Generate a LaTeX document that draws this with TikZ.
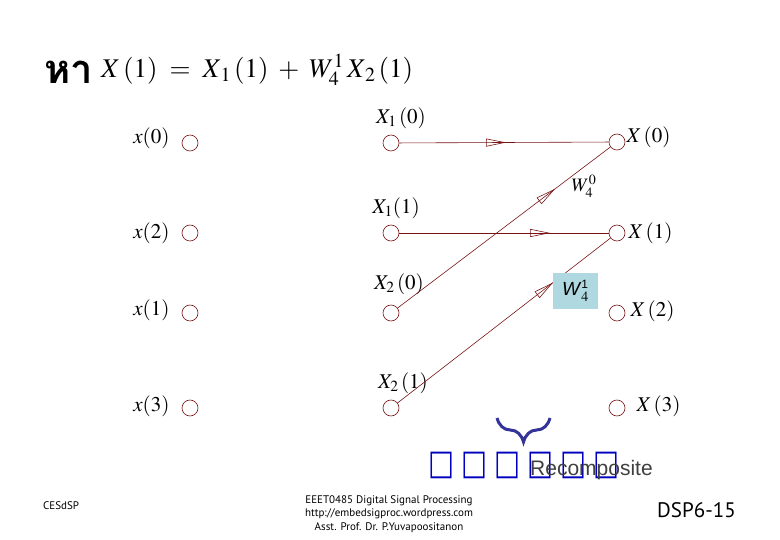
\documentclass[tikz,border=0pt]{standalone}
\usepackage{mathptmx}
\usepackage{fontspec}
\usepackage{tikz}
\usetikzlibrary{positioning,arrows.meta,decorations.markings,decorations.pathreplacing}
\newfontfamily\thaifont[Script=Thai]{Loma}
\newfontfamily\symfont{DejaVu Sans}
\newfontfamily\footfont{PT Sans}
\newfontfamily\arialfont{Liberation Sans}
\definecolor{flow}{RGB}{120,20,20}
\definecolor{wbox}{RGB}{176,216,224}
\definecolor{bracecol}{RGB}{51,51,153}
\definecolor{tofu}{RGB}{0,0,190}
\newcommand{\tf}{\scalebox{0.95}[1.2]{□}\hspace{7pt}}
\tikzset{
  pt/.style={draw=flow, line width=0.6pt, circle, inner sep=0pt, minimum size=16pt},
  lab/.style={font=\fontsize{21}{23}\selectfont, inner sep=0pt},
  flowline/.style={draw=flow, line width=0.6pt},
  midarrow/.style={postaction={decorate}, decoration={markings,
    mark=at position #1 with {\arrow[flow, line width=0.6pt]{Triangle[open, length=20pt, width=8pt]}}}}
}

\begin{document}
\begin{tikzpicture}[x=1pt, y=-1pt]
\useasboundingbox (0,0) rectangle (780,540);
\node [anchor=west, inner sep=0pt] (tha) at (44,72) {\thaifont\bfseries\fontsize{40}{42}\selectfont หา};
\node [anchor=west, inner sep=0pt, font=\fontsize{27}{30}\selectfont] (eq) at (101,70) {$X\,(1)\;=\;X_{\,1}\,(1)\;+\;W_4^1\,X_{\,2}\,(1)$};
\node [pt] (x0) at (190,143) {};
\node [pt] (x2) at (190,233) {};
\node [pt] (x1) at (190,313) {};
\node [pt] (x3) at (190,408) {};
\node [pt] (m0) at (391,143) {};
\node [pt] (m1) at (391,233) {};
\node [pt] (m2) at (391,313) {};
\node [pt] (m3) at (391,408) {};
\node [pt] (r0) at (617,142) {};
\node [pt] (r1) at (617,233) {};
\node [pt] (r2) at (617,313) {};
\node [pt] (r3) at (617,408) {};
\node [lab, left=12pt of x0, yshift=5pt] {$x(0)$};
\node [lab, left=12pt of x2, yshift=0pt] {$x(2)$};
\node [lab, left=12pt of x1, yshift=3pt] {$x(1)$};
\node [lab, left=12pt of x3, yshift=2pt] {$x(3)$};
\node [lab, above=6pt of m0, xshift=10pt] {$X_{1}\,(0)$};
\node [lab, above=6pt of m1, xshift=5pt] {$X_{1}(1)$};
\node [lab, above=10pt of m2, xshift=8pt] {$X_{2}\,(0)$};
\node [lab, above=6pt of m3, xshift=12pt] {$X_{2}\,(1)$};
\node [lab, right=1pt of r0, yshift=5pt] {$X\,(0)$};
\node [lab, right=3pt of r1] {$X\,(1)$};
\node [lab, right=5pt of r2, yshift=2pt] {$X\,(2)$};
\node [lab, right=11pt of r3, yshift=2pt] {$X\,(3)$};
\draw [flowline, midarrow=0.51] (m0) -- (r0);
\draw [flowline, midarrow=0.72] (m1) -- (r1);
\draw [flowline, midarrow=0.74] (m2) -- (r0);
\draw [flowline, midarrow=0.73] (m3) -- (r1);
\node [lab, font=\fontsize{19}{21}\selectfont] (w0) at (584,186) {$W_4^0$};
\node [fill=wbox, minimum width=45pt, minimum height=36pt, inner sep=0pt, font=\arialfont\fontsize{19}{21}\selectfont] (w1) at (575.5,291) {\textit{W}$_4^{\mbox{\arialfont\fontsize{12}{13}\selectfont 1}}$};
\draw [bracecol, line width=3pt, decorate, decoration={brace, amplitude=24pt}] (550,418) -- (497,418);
\node [anchor=west, inner sep=0pt, text=tofu, font=\symfont\bfseries\fontsize{29}{30}\selectfont] (tofu) at (428,465) {\tf\tf\tf\tf\tf\scalebox{0.95}[1.2]{□}};
\node [anchor=base west, inner sep=0pt, text=black!75, font=\arialfont\fontsize{21}{23}\selectfont] (rc) at (530,475) {Recomposite};
\node [anchor=west, inner sep=0pt, font=\footfont\fontsize{11}{13}\selectfont] (ft1) at (43,506) {CESdSP};
\node [align=center, inner sep=0pt, font=\footfont\fontsize{11}{13.5}\selectfont] (ft2) at (389,514) {EEET0485 Digital Signal Processing\\http://embedsigproc.wordpress.com\\Asst. Prof. Dr. P.Yuvapoositanon};
\node [anchor=west, inner sep=0pt, font=\footfont\fontsize{21}{23}\selectfont] (ft3) at (657,510) {DSP6-15};
\end{tikzpicture}
\end{document}
